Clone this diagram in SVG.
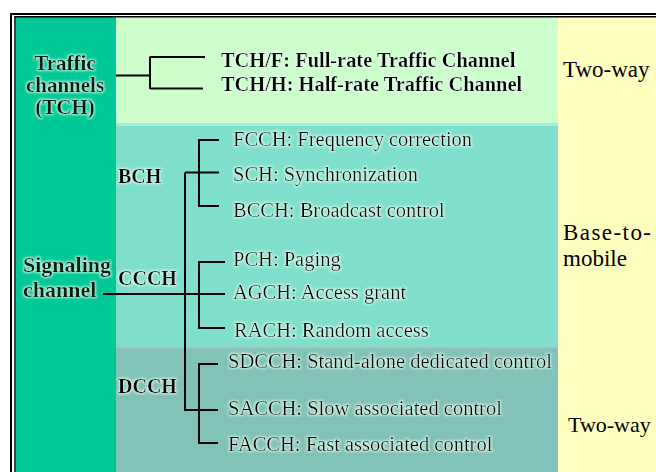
<svg xmlns="http://www.w3.org/2000/svg" width="656" height="472" viewBox="0 0 656 472">
<defs>
<filter id="halo" x="-10%" y="-20%" width="120%" height="140%">
<feMorphology in="SourceAlpha" operator="dilate" radius="1" result="d"/>
<feGaussianBlur in="d" stdDeviation="0.8" result="b"/>
<feFlood flood-color="#e8fff4" flood-opacity="0.75"/>
<feComposite in2="b" operator="in" result="g"/>
<feMerge><feMergeNode in="g"/><feMergeNode in="SourceGraphic"/></feMerge>
</filter>
<style>
.t{font-family:"Liberation Serif","Times New Roman",serif;fill:#000}
.lab{font-size:21px;font-weight:bold;fill:#001a10}
.sig{font-size:22px;font-weight:bold;fill:#001a10}
.item{font-size:20.5px}
.sub{font-size:20px;font-weight:bold}
.tch{font-size:20.4px;font-weight:bold}
.side{font-size:23px}
.ln{stroke:#000;stroke-width:2;fill:none}
</style>
</defs>
<rect x="0" y="0" width="656" height="472" fill="#ffffff"/>
<!-- backgrounds -->
<rect x="16" y="17" width="100" height="455" fill="#00c896"/>
<rect x="116" y="17" width="442" height="106" fill="#ccffcc"/>
<rect x="116" y="123" width="442" height="223" fill="#80dfcc"/>
<rect x="116" y="123" width="442" height="3" fill="#a8ecdc"/>
<rect x="116" y="346" width="442" height="126" fill="#82c2b8"/>
<rect x="116" y="346" width="442" height="2" fill="#96cfc6"/>
<rect x="558" y="17" width="98" height="455" fill="#ffffc0"/>
<!-- frame -->
<path d="M11,472 V14 H656" stroke="#000" stroke-width="2" fill="none"/>
<path d="M15,472 V16.75 H656" stroke="#000" stroke-width="1.5" fill="none"/>

<g id="connectors">
<path class="ln" d="M116,75.5 H150 M150,56.5 V89 M150,57 H205 M150,88.5 H203"/>
<path class="ln" d="M103,294 H225"/>
<path class="ln" d="M185,172.5 V411"/>
<path class="ln" d="M185,172.5 H219 M199,139 V207 M199,140 H219 M199,206 H219"/>
<path class="ln" d="M199,261 V329 M199,262 H225 M199,328 H225"/>
<path class="ln" d="M185,410 H218 M199,363 V444 M199,364 H218 M199,443 H218"/>
</g>

<g id="tch" filter="url(#halo)">
<text class="t lab" x="65" y="70" text-anchor="middle">Traffic</text>
<text class="t lab" x="65" y="92" text-anchor="middle">channels</text>
<text class="t lab" x="65" y="114" text-anchor="middle">(TCH)</text>
</g>
<g id="signaling" filter="url(#halo)">
<text class="t sig" x="23" y="272">Signaling</text>
<text class="t sig" x="23" y="297">channel</text>
</g>
<g id="tchf" filter="url(#halo)"><text class="t tch" x="221" y="67">TCH/F: Full-rate Traffic Channel</text></g>
<g id="tchh" filter="url(#halo)"><text class="t tch" x="221" y="91">TCH/H: Half-rate Traffic Channel</text></g>

<g id="bch" filter="url(#halo)"><text class="t sub" x="118" y="183">BCH</text></g>
<g id="ccch" filter="url(#halo)"><text class="t sub" x="118" y="285">CCCH</text></g>
<g id="dcch" filter="url(#halo)"><text class="t sub" x="118" y="393">DCCH</text></g>

<g id="fcch" filter="url(#halo)"><text class="t item" x="233" y="146">FCCH: Frequency correction</text></g>
<g id="sch" filter="url(#halo)"><text class="t item" x="233" y="181">SCH: Synchronization</text></g>
<g id="bcch" filter="url(#halo)"><text class="t item" x="233" y="217">BCCH: Broadcast control</text></g>
<g id="pch" filter="url(#halo)"><text class="t item" x="233" y="266">PCH: Paging</text></g>
<g id="agch" filter="url(#halo)"><text class="t item" x="233" y="299">AGCH: Access grant</text></g>
<g id="rach" filter="url(#halo)"><text class="t item" x="234" y="337">RACH: Random access</text></g>
<g id="sdcch" filter="url(#halo)"><text class="t item" x="228" y="368">SDCCH: Stand-alone dedicated control</text></g>
<g id="sacch" filter="url(#halo)"><text class="t item" x="228" y="415">SACCH: Slow associated control</text></g>
<g id="facch" filter="url(#halo)"><text class="t item" x="228" y="451">FACCH: Fast associated control</text></g>

<g id="twoway1"><text class="t side" x="563" y="77">Two-way</text></g>
<g id="base2mobile">
<text class="t side" x="563" y="240" textLength="88" lengthAdjust="spacing">Base-to-</text>
<text class="t side" x="563" y="266">mobile</text>
</g>
<g id="twoway2"><text class="t side" x="568" y="432" style="font-size:22px">Two-way</text></g>
</svg>
